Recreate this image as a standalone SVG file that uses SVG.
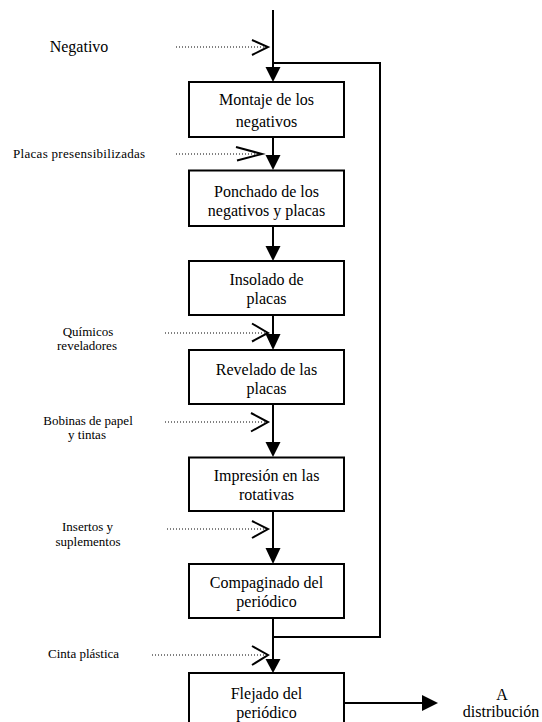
<svg xmlns="http://www.w3.org/2000/svg" width="542" height="722" viewBox="0 0 542 722">
  <style>
    .box { fill: #ffffff; stroke: #000; stroke-width: 2; }
    .flow { fill: none; stroke: #000; stroke-width: 2; }
    .input { fill: none; stroke: #000; stroke-width: 1; stroke-dasharray: 1 2; }
    .chev { fill: none; stroke: #000; stroke-width: 2; stroke-linejoin: miter; }
    .head { fill: #000; }
    .big { font-family: "Liberation Serif", serif; font-size: 16px; text-anchor: middle; }
    .sm { font-family: "Liberation Serif", serif; font-size: 13px; }
    .smc { font-family: "Liberation Serif", serif; font-size: 13px; text-anchor: middle; }
  </style>

  <!-- connectors -->
  <g id="connectors">
    <!-- main flow line -->
    <path class="flow" d="M273 10 V70"/>
    <path class="flow" d="M273 137 V158"/>
    <path class="flow" d="M273 226 V248"/>
    <path class="flow" d="M273 315 V336"/>
    <path class="flow" d="M273 404 V444"/>
    <path class="flow" d="M273 511 V550"/>
    <path class="flow" d="M273 618 V661"/>
    <!-- return loop -->
    <path class="flow" d="M273 637 H380 V63 H273"/>
    <!-- output -->
    <path class="flow" d="M344 703 H424"/>
    <!-- filled arrowheads -->
    <polygon class="head" points="265.5,67 280.5,67 273,82"/>
    <polygon class="head" points="265.5,155 280.5,155 273,170"/>
    <polygon class="head" points="265.5,246 280.5,246 273,261"/>
    <polygon class="head" points="265.5,334 280.5,334 273,350"/>
    <polygon class="head" points="265.5,442 280.5,442 273,457"/>
    <polygon class="head" points="265.5,548 280.5,548 273,564"/>
    <polygon class="head" points="265.5,659 280.5,659 273,673"/>
    <polygon class="head" points="422,695 438,703 422,711"/>
    <!-- dotted inputs with open heads -->
    <path class="input" d="M176 47 H266"/>
    <path class="chev" d="M252 40 L268 47 L252 55"/>
    <path class="input" d="M176 154 H260"/>
    <path class="chev" d="M236 147 L262 154 L237 160.5"/>
    <path class="input" d="M165 333 H266"/>
    <path class="chev" d="M252 323.5 L268 333 L252 341.5"/>
    <path class="input" d="M165 422 H266"/>
    <path class="chev" d="M251 413 L268 422 L251 431.5"/>
    <path class="input" d="M167 529 H266"/>
    <path class="chev" d="M252 521 L268 529 L252 538"/>
    <path class="input" d="M152 655 H266"/>
    <path class="chev" d="M252 646 L268 655 L252 665"/>
  </g>

  <!-- process steps -->
  <g id="montaje">
    <rect class="box" x="189" y="82" width="155" height="55"/>
    <text class="big" x="266.5" y="105">Montaje de los</text>
    <text class="big" x="266.5" y="127">negativos</text>
  </g>
  <g id="ponchado">
    <rect class="box" x="189" y="170.5" width="155" height="55.5"/>
    <text class="big" x="266.5" y="197">Ponchado de los</text>
    <text class="big" x="266.5" y="216">negativos y placas</text>
  </g>
  <g id="insolado">
    <rect class="box" x="189" y="261" width="155" height="54"/>
    <text class="big" x="266.5" y="285">Insolado de</text>
    <text class="big" x="266.5" y="304">placas</text>
  </g>
  <g id="revelado">
    <rect class="box" x="189" y="350" width="155" height="54"/>
    <text class="big" x="266.5" y="374.5">Revelado de las</text>
    <text class="big" x="266.5" y="393.5">placas</text>
  </g>
  <g id="impresion">
    <rect class="box" x="189" y="457.5" width="155" height="53.5"/>
    <text class="big" x="266.5" y="481">Impresión en las</text>
    <text class="big" x="266.5" y="499.5">rotativas</text>
  </g>
  <g id="compaginado">
    <rect class="box" x="189" y="564" width="155" height="54"/>
    <text class="big" x="266.5" y="588">Compaginado del</text>
    <text class="big" x="266.5" y="606.5">periódico</text>
  </g>
  <g id="flejado">
    <rect class="box" x="189" y="673" width="155" height="52"/>
    <text class="big" x="266.5" y="699">Flejado del</text>
    <text class="big" x="266.5" y="717.5">periódico</text>
  </g>

  <!-- inputs and output labels -->
  <g id="negativo">
    <text class="big" x="79" y="52">Negativo</text>
  </g>
  <g id="placas">
    <text class="sm" x="13" y="157.5" letter-spacing="0.3">Placas presensibilizadas</text>
  </g>
  <g id="quimicos">
    <text class="smc" x="88" y="336">Químicos</text>
    <text class="smc" x="87" y="350">reveladores</text>
  </g>
  <g id="bobinas">
    <text class="smc" x="88" y="425">Bobinas de papel</text>
    <text class="smc" x="87" y="438.5">y tintas</text>
  </g>
  <g id="insertos">
    <text class="smc" x="87.5" y="531">Insertos y</text>
    <text class="smc" x="88" y="546">suplementos</text>
  </g>
  <g id="cinta">
    <text class="sm" x="48" y="658">Cinta plástica</text>
  </g>
  <g id="distribucion">
    <text class="big" x="502" y="700">A</text>
    <text class="big" x="501" y="717">distribución</text>
  </g>
</svg>
